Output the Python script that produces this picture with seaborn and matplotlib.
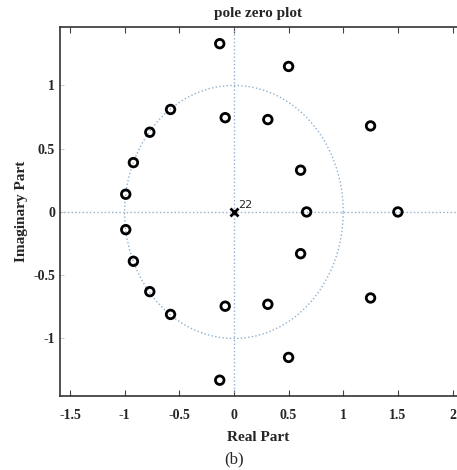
import numpy as np
import pandas as pd
import matplotlib
matplotlib.use("Agg")
import matplotlib.pyplot as plt
import seaborn as sns

# zeros (upper half-plane, mirrored below) and real zeros
zero_re_upper = [-0.13, 0.50, -0.58, -0.08, 0.31, 1.25, -0.77, 0.61, -0.92, -0.99]
zero_im_upper = [1.33, 1.15, 0.81, 0.745, 0.73, 0.68, 0.63, 0.33, 0.39, 0.14]
zero_re_real = [0.665, 1.50]
pole_count = 22
xticks = [-1.5, -1, -0.5, 0, 0.5, 1, 1.5, 2]
yticks = [-1, -0.5, 0, 0.5, 1]

zeros = pd.DataFrame({
    "re": zero_re_upper + zero_re_upper + zero_re_real,
    "im": zero_im_upper + [-v for v in zero_im_upper] + [0.0] * len(zero_re_real),
})

sns.set_style("white")
plt.rcParams['font.family'] = ['Liberation Serif', 'DejaVu Serif']

fig = plt.figure(figsize=(4.57, 4.70), dpi=100)
ax = fig.add_axes([0.1313, 0.1574, 0.8687, 0.7852])

guide = '#8fb0d0'
th = np.linspace(0, 2 * np.pi, 400)
ax.plot(np.cos(th), np.sin(th), ls=':', color=guide, lw=1)
ax.axhline(0, ls=':', color=guide, lw=1)
ax.axvline(0, ls=':', color=guide, lw=1)

sns.scatterplot(data=zeros, x="re", y="im", ax=ax, marker='o', s=38,
                facecolor='none', edgecolor='black', linewidth=2, zorder=3)
ax.plot([0], [0], marker='x', color='black', ms=6, mew=2, ls='none', zorder=3)
ax.text(0.04, 0.03, str(pole_count), fontsize=8, family='DejaVu Sans')

ax.set_xlim(-1.5915, 2.041)
ax.set_ylim(-1.455, 1.462)
ax.set_xticks(xticks)
ax.set_yticks(yticks)
ax.set_xticklabels([f"{t:g}" for t in xticks], fontweight='bold', fontsize=10)
ax.set_yticklabels([f"{t:g}" for t in yticks], fontweight='bold', fontsize=10)
ax.tick_params(axis='x', direction='in', top=True, bottom=True, length=4,
               color='#444444', pad=9)
ax.tick_params(axis='y', direction='in', left=True, length=3, color='#cccccc')
ax.spines['right'].set_visible(False)
for s in ['left', 'top', 'bottom']:
    ax.spines[s].set_color('#333333')
    ax.spines[s].set_linewidth(1.2)

ax.set_xlabel("Real Part", fontweight='bold', fontsize=11, labelpad=7)
ax.set_ylabel("Imaginary Part", fontweight='bold', fontsize=11, labelpad=4)
ax.set_title("pole zero plot", fontweight='bold', fontsize=11, pad=7)
fig.text(0.513, 0.014, "(b)", ha='center', fontsize=12)

fig.savefig("out.png", dpi=100)
